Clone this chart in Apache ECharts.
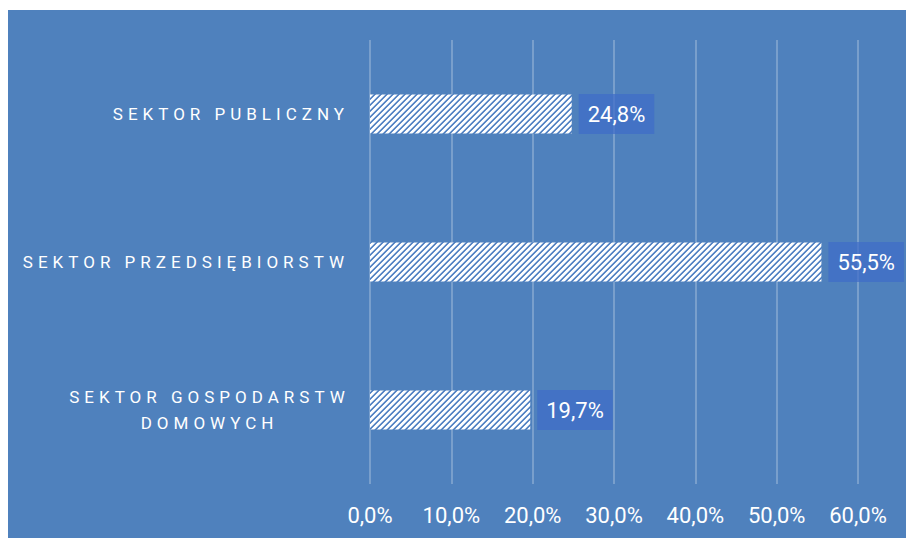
<!DOCTYPE html>
<html>
<head>
<meta charset="utf-8">
<script src="https://cdn.jsdelivr.net/npm/echarts@6/dist/echarts.min.js"></script>
<style>
  html, body { margin: 0; padding: 0; background: #ffffff; }
  #chart { width: 906px; height: 538px; }
</style>
</head>
<body>
<div id="chart"></div>
<script>
// Sector shares, top to bottom
const categories = ['SEKTOR PUBLICZNY', 'SEKTOR PRZEDSIĘBIORSTW', 'SEKTOR GOSPODARSTW\nDOMOWYCH'];
const shares = [24.8, 55.5, 19.7];
const axisTicks = [0, 10, 20, 30, 40, 50, 60];

const BG = '#4F81BD';
const LETTER_SPACING = 5;

const fmt = v => v.toFixed(1).replace('.', ',') + '%';

// Hatched fill: white tile with upward diagonal blue strokes
function hatchTile() {
  const n = 6;
  const c = document.createElement('canvas');
  c.width = n; c.height = n;
  const ctx = c.getContext('2d');
  ctx.fillStyle = '#ffffff';
  ctx.fillRect(0, 0, n, n);
  for (let x = 0; x < n; x++) {
    for (let y = 0; y < n; y++) {
      const k = (x + y) % n;
      let col = null;
      if (k === 0) col = '#4a7cc0';
      else if (k === 1) col = '#7097cd';
      else if (k === 5) col = '#b4c9e6';
      if (col) { ctx.fillStyle = col; ctx.fillRect(x, y, 1, 1); }
    }
  }
  return c;
}

const chart = echarts.init(document.getElementById('chart'), null, { renderer: 'svg' });

const gridLeft = 370;
const labelMargin = 21;
const anchorX = gridLeft - labelMargin;

const yData = categories.map(name => {
  if (name.indexOf('\n') < 0) return name;
  // two-line label: lines centred on each other
  return {
    value: name,
    textStyle: { align: 'center', padding: [0, 2 * (anchorX - 209.5), 0, 0], lineHeight: 26 }
  };
});

chart.setOption({
  animation: false,
  backgroundColor: 'transparent',
  graphic: [{
    type: 'rect', z: -10, silent: true,
    shape: { x: 8, y: 10, width: 898, height: 528 },
    style: { fill: BG }
  }],
  grid: { left: gridLeft, right: 48, top: 40, bottom: 54, containLabel: false },
  xAxis: {
    type: 'value',
    min: axisTicks[0],
    max: axisTicks[axisTicks.length - 1],
    interval: axisTicks[1] - axisTicks[0],
    axisLine: { show: false },
    axisTick: { show: false },
    splitLine: { show: true, lineStyle: { color: 'rgba(255,255,255,0.32)', width: 1.5 } },
    axisLabel: {
      color: '#ffffff',
      fontFamily: 'Roboto',
      fontSize: 22,
      margin: 20,
      formatter: v => fmt(v)
    }
  },
  yAxis: {
    type: 'category',
    inverse: true,
    data: yData,
    axisLine: { show: false },
    axisTick: { show: false },
    splitLine: { show: false },
    axisLabel: {
      interval: 0,
      color: '#ffffff',
      fontFamily: 'Roboto',
      fontSize: 17,
      margin: labelMargin,
      lineHeight: 26
    }
  },
  series: [{
    type: 'bar',
    data: shares,
    barWidth: 39,
    itemStyle: { color: { image: hatchTile(), repeat: 'repeat' } },
    label: {
      show: true,
      position: 'right',
      distance: 7,
      color: '#ffffff',
      fontFamily: 'Roboto',
      fontSize: 22,
      lineHeight: 26,
      padding: [7, 9],
      backgroundColor: 'rgba(63,108,199,0.72)',
      formatter: p => fmt(p.value)
    }
  }]
});

// Spread out the letters of the category names
const spacedLines = new Set();
categories.forEach(c => c.split('\n').forEach(l => spacedLines.add(l)));
function spaceCategoryLabels() {
  document.querySelectorAll('#chart text').forEach(t => {
    if (spacedLines.has(t.textContent)) t.setAttribute('letter-spacing', LETTER_SPACING);
  });
}
spaceCategoryLabels();
chart.on('finished', spaceCategoryLabels);
</script>
</body>
</html>
